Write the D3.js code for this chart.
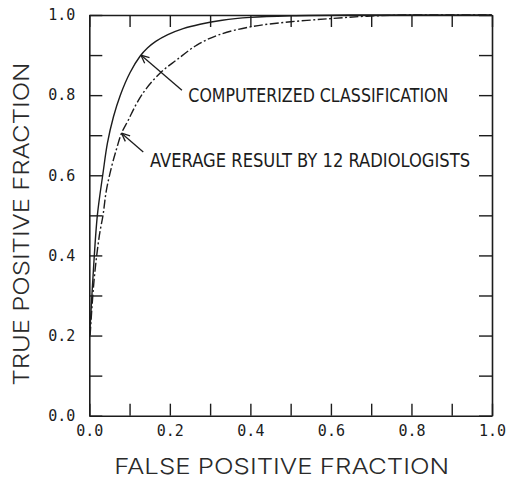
<!DOCTYPE html>
<html>
<head>
<meta charset="utf-8">
<script src="https://cdn.jsdelivr.net/npm/d3@7/dist/d3.min.js"></script>
<style>
  html, body { margin: 0; padding: 0; background: #fff; }
  svg { display: block; }
</style>
</head>
<body>
<svg id="chart" width="511" height="481"></svg>
<script>
// ROC curves: computerized classification vs. mean of 12 radiologists
const computerFPF = [0.002, 0.010, 0.020, 0.034, 0.045, 0.060, 0.077, 0.101, 0.126, 0.145, 0.165, 0.195, 0.233, 0.275, 0.330, 0.400, 0.500, 0.650, 0.800, 1.000];
const computerTPF = [0.220, 0.360, 0.500, 0.605, 0.680, 0.746, 0.800, 0.856, 0.897, 0.918, 0.934, 0.951, 0.966, 0.977, 0.987, 0.994, 0.998, 1.000, 1.000, 1.000];

const radiologistFPF = [0.002, 0.012, 0.025, 0.034, 0.042, 0.055, 0.068, 0.080, 0.097, 0.118, 0.142, 0.180, 0.217, 0.267, 0.320, 0.403, 0.500, 0.600, 0.690, 0.800, 1.000];
const radiologistTPF = [0.200, 0.340, 0.450, 0.500, 0.560, 0.620, 0.667, 0.705, 0.738, 0.780, 0.817, 0.859, 0.888, 0.925, 0.950, 0.971, 0.983, 0.991, 0.997, 1.000, 1.000];

const tickValues = [0.0, 0.1, 0.2, 0.3, 0.4, 0.5, 0.6, 0.7, 0.8, 0.9, 1.0];
const tickLabels = ["0.0", "", "0.2", "", "0.4", "", "0.6", "", "0.8", "", "1.0"];

const xTitle = "FALSE POSITIVE FRACTION";
const yTitle = "TRUE POSITIVE FRACTION";

// Callout labels: arrow tip, arrow tail and text start, in data units
const calloutText = ["COMPUTERIZED CLASSIFICATION", "AVERAGE RESULT BY 12 RADIOLOGISTS"];
const calloutTip  = [[0.128, 0.900], [0.080, 0.705]];
const calloutTail = [[0.230, 0.812], [0.134, 0.658]];
const calloutAt   = [[0.246, 0.783], [0.151, 0.621]];

const ink = "#1c1c1c";
const svg = d3.select("#chart");
const margin = { left: 89.3, top: 15, right: 19, bottom: 65.3 };
const W = 511 - margin.left - margin.right;
const H = 481 - margin.top - margin.bottom;

const x = d3.scaleLinear().domain([0, 1]).range([0, W]);
const y = d3.scaleLinear().domain([0, 1]).range([H, 0]);

const g = svg.append("g").attr("transform", `translate(${margin.left},${margin.top})`);

const fmt = (d) => tickLabels[Math.round(d * 10)];
const monoFont = "'DejaVu Sans Mono', monospace";

function styleAxis(sel, showLabels) {
  sel.select(".domain").attr("stroke", ink).attr("stroke-width", 1.6);
  sel.selectAll(".tick line").attr("stroke", ink).attr("stroke-width", 1.4);
  sel.selectAll(".tick text")
    .attr("fill", ink)
    .style("font-family", monoFont)
    .style("font-size", "15px");
  if (!showLabels) sel.selectAll(".tick text").remove();
}

// Inward ticks on all four sides; labels on bottom and left
g.append("g").attr("transform", `translate(0,${H})`)
  .call(d3.axisBottom(x).tickValues(tickValues).tickFormat(fmt).tickSizeInner(-12).tickSizeOuter(0).tickPadding(10))
  .call(s => styleAxis(s, true));
g.append("g")
  .call(d3.axisTop(x).tickValues(tickValues).tickSizeInner(-12).tickSizeOuter(0))
  .call(s => styleAxis(s, false));
g.append("g")
  .call(d3.axisLeft(y).tickValues(tickValues).tickFormat(fmt).tickSizeInner(-13).tickSizeOuter(0).tickPadding(14))
  .call(s => styleAxis(s, true));
g.append("g").attr("transform", `translate(${W},0)`)
  .call(d3.axisRight(y).tickValues(tickValues).tickSizeInner(-13).tickSizeOuter(0))
  .call(s => styleAxis(s, false));

g.selectAll("text").filter(function () { return this.textContent === ""; }).remove();

// Curves
const line = d3.line().x(d => x(d[0])).y(d => y(d[1])).curve(d3.curveCatmullRom.alpha(0.5));
const computerPts = computerFPF.map((v, i) => [v, computerTPF[i]]);
const radiologistPts = radiologistFPF.map((v, i) => [v, radiologistTPF[i]]);

g.append("path").datum(computerPts)
  .attr("d", line).attr("fill", "none").attr("stroke", ink).attr("stroke-width", 1.4);
g.append("path").datum(radiologistPts)
  .attr("d", line).attr("fill", "none").attr("stroke", ink).attr("stroke-width", 1.4)
  .attr("stroke-dasharray", "9,2.5,2,2.5");

// Callouts with open arrowheads
calloutText.forEach((t, i) => {
  const tx = x(calloutTip[i][0]), ty = y(calloutTip[i][1]);
  const sx = x(calloutTail[i][0]), sy = y(calloutTail[i][1]);
  g.append("line").attr("x1", sx).attr("y1", sy).attr("x2", tx).attr("y2", ty)
    .attr("stroke", ink).attr("stroke-width", 1.3);
  const ang = Math.atan2(sy - ty, sx - tx);
  const len = 9, spread = 0.42;
  [ang - spread, ang + spread].forEach(a => {
    g.append("line")
      .attr("x1", tx).attr("y1", ty)
      .attr("x2", tx + len * Math.cos(a)).attr("y2", ty + len * Math.sin(a))
      .attr("stroke", ink).attr("stroke-width", 1.3);
  });
  g.append("text")
    .attr("x", x(calloutAt[i][0])).attr("y", y(calloutAt[i][1]))
    .attr("fill", ink)
    .attr("textLength", i === 0 ? 260 : 320)
    .attr("lengthAdjust", "spacingAndGlyphs")
    .style("font-family", "'DejaVu Sans Condensed', 'DejaVu Sans', sans-serif")
    .style("font-stretch", "condensed")
    .style("font-size", "19px")
    .text(t);
});

// Axis titles
svg.append("text")
  .attr("x", margin.left + W / 2 - 9).attr("y", 474)
  .attr("text-anchor", "middle")
  .attr("fill", "#2a2a2a")
  .attr("textLength", 335).attr("lengthAdjust", "spacingAndGlyphs")
  .style("font-family", "Inter, 'DejaVu Sans', sans-serif").style("font-weight", 300).style("font-size", "22px")
  .text(xTitle);

svg.append("text")
  .attr("transform", `translate(29,${224}) rotate(-90)`)
  .attr("text-anchor", "middle")
  .attr("fill", "#2a2a2a")
  .attr("textLength", 323).attr("lengthAdjust", "spacingAndGlyphs")
  .style("font-family", "Inter, 'DejaVu Sans', sans-serif").style("font-weight", 300).style("font-size", "22px")
  .text(yTitle);
</script>
</body>
</html>
